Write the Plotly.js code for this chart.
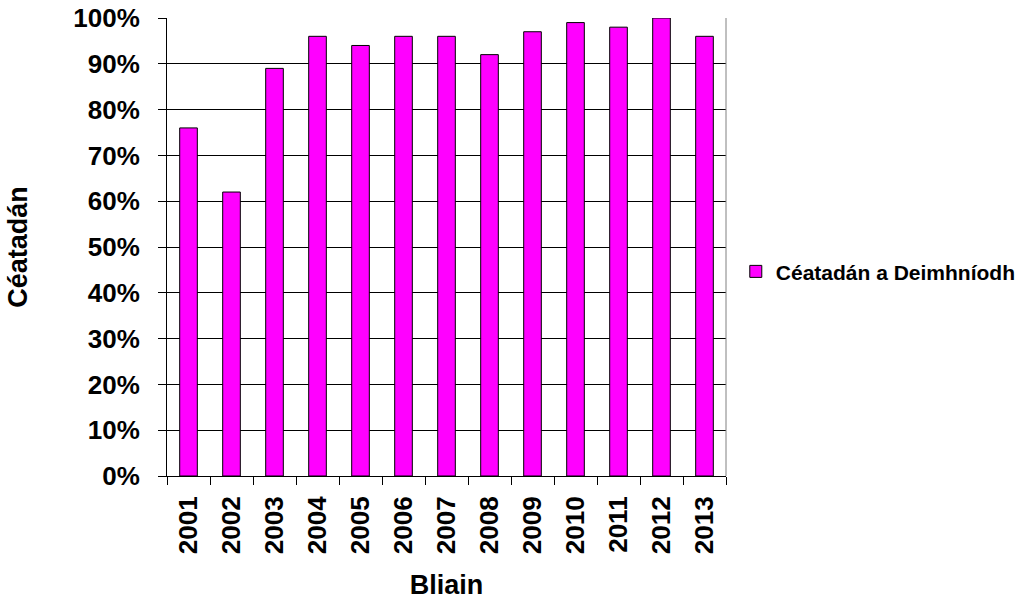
<!DOCTYPE html>
<html>
<head>
<meta charset="utf-8">
<script src="https://cdn.plot.ly/plotly-3.0.1.min.js"></script>
<style>html,body{margin:0;padding:0;background:#fff;}#chart{width:1034px;height:600px;}</style>
</head>
<body>
<div id="chart"></div>
<script>
const years = ['2001','2002','2003','2004','2005','2006','2007','2008','2009','2010','2011','2012','2013'];
const percentCertified = [0.76,0.62,0.89,0.96,0.94,0.96,0.96,0.92,0.97,0.99,0.98,1.00,0.96];
const yTickValues = [0,0.1,0.2,0.3,0.4,0.5,0.6,0.7,0.8,0.9,1.0];
const seriesName = 'Céatadán a Deimhníodh';
const xTitle = 'Bliain';
const yTitle = 'Céatadán';

const fam = 'Liberation Sans, Arial, sans-serif';
const tickFont = {family: fam, size: 26, weight: 'bold', color: '#000'};
const titleFont = {family: fam, size: 27, weight: 'bold', color: '#000'};

const trace = {
  type: 'bar',
  x: years,
  y: percentCertified,
  name: seriesName,
  width: 0.41,
  marker: {color: '#FF00FF', line: {color: '#000', width: 1}},
  showlegend: true
};

const layout = {
  width: 1034, height: 600,
  margin: {l: 167, r: 308, t: 18, b: 124},
  paper_bgcolor: '#fff', plot_bgcolor: '#fff',
  font: {family: fam, color: '#000'},
  showlegend: true,
  legend: {x: 1.0175, y: 0.446, xanchor: 'left', yanchor: 'middle',
    font: {family: fam, size: 21, weight: 'bold', color: '#000'},
    itemwidth: 30},
  xaxis: {
    type: 'category',
    showline: true, linecolor: '#000', linewidth: 1,
    ticks: 'outside', ticklen: 8, tickcolor: '#000', tickwidth: 1,
    tickson: 'boundaries',
    tickangle: -90,
    ticklabelstandoff: 9,
    tickfont: tickFont,
    showgrid: false,
    automargin: false,
    title: {text: xTitle, font: titleFont, standoff: 23}
  },
  yaxis: {
    range: [0, 1.0],
    tickvals: yTickValues,
    tickformat: '.0%',
    showline: true, linecolor: '#000', linewidth: 1,
    ticks: 'outside', ticklen: 8, tickcolor: '#000', tickwidth: 1,
    ticklabelstandoff: 13,
    showgrid: true, gridcolor: '#000', gridwidth: 1,
    zeroline: false,
    tickfont: tickFont,
    automargin: false,
    title: {text: yTitle, font: titleFont, standoff: 37}
  },
  shapes: [
    {type: 'line', xref: 'paper', yref: 'paper', x0: 1, x1: 1, y0: 0, y1: 1, line: {color: '#808080', width: 1}}
  ]
};

Plotly.newPlot('chart', [trace], layout, {displayModeBar: false, staticPlot: true});
</script>
</body>
</html>
